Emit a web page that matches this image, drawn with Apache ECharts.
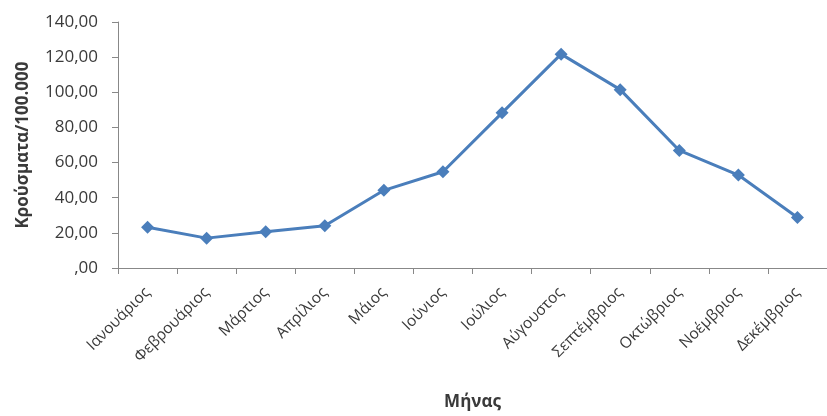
<!DOCTYPE html>
<html><head><meta charset="utf-8">
<script src="https://cdn.jsdelivr.net/npm/echarts@6/dist/echarts.min.js"></script>
<style>html,body{margin:0;padding:0;background:#fff}#c{width:827px;height:416px}</style>
</head><body><div id="c"></div>
<script>
const months = ['Ιανουάριος','Φεβρουάριος','Μάρτιος','Απρίλιος','Μάιος','Ιούνιος','Ιούλιος','Αύγουστος','Σεπτέμβριος','Οκτώβριος','Νοέμβριος','Δεκέμβριος'];
const cases = [23.2, 17.0, 20.6, 24.0, 44.2, 54.8, 88.3, 121.7, 101.5, 66.9, 52.9, 28.7];
const yAxisName = 'Κρούσματα/100.000';
const xAxisName = 'Μήνας';

const chart = echarts.init(document.getElementById('c'), null, {renderer:'canvas'});
const font = '"Open Sans", "Noto Sans", sans-serif';
chart.setOption({
  animation: false,
  grid: {left: 118, right: 0, top: 22, bottom: 147},
  xAxis: {
    type: 'category', data: months, boundaryGap: true,
    name: xAxisName, nameLocation: 'middle', nameGap: 126,
    nameTextStyle: {fontFamily: font, fontWeight: 'bold', fontSize: 17, color: '#3a3a3a'},
    axisLine: {lineStyle: {color: '#888', width: 1}},
    axisTick: {show: true, length: 6, lineStyle: {color: '#888'}},
    axisLabel: {rotate: 45, fontFamily: font, fontSize: 15.5, color: '#3a3a3a', margin: 22, interval: 0}
  },
  yAxis: {
    type: 'value', min: 0, max: 140, interval: 20,
    name: yAxisName, nameLocation: 'middle', nameGap: 86,
    nameTextStyle: {fontFamily: font, fontWeight: 'bold', fontSize: 17, color: '#3a3a3a'},
    axisLine: {show: true, lineStyle: {color: '#888', width: 1}},
    axisTick: {show: true, length: 6, lineStyle: {color: '#888'}},
    splitLine: {show: false},
    axisLabel: {fontFamily: font, fontSize: 17, color: '#3a3a3a', margin: 20,
      formatter: v => v === 0 ? ',00' : v.toFixed(2).replace('.', ',')}
  },
  series: [{
    type: 'line', data: cases,
    symbol: 'diamond', symbolSize: 13,
    lineStyle: {color: '#4A7EBB', width: 3},
    itemStyle: {color: '#4A7EBB'}
  }]
});
</script></body></html>
